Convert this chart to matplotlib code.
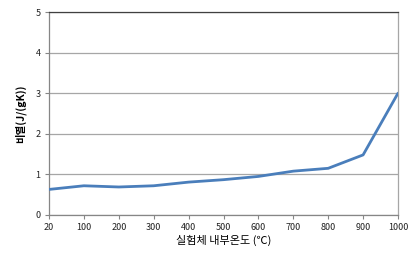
import matplotlib
matplotlib.use("Agg")
import matplotlib.pyplot as plt
import numpy as np

categories = ["20", "100", "200", "300", "400", "500", "600", "700", "800", "900", "1000"]
values = [0.63, 0.72, 0.69, 0.72, 0.81, 0.87, 0.95, 1.08, 1.15, 1.48, 3.0]
yticks = [0, 1, 2, 3, 4, 5]

plt.rcParams['font.family'] = ['Noto Sans CJK KR', 'DejaVu Sans']

fig = plt.figure(figsize=(4.18, 2.56), dpi=100)
ax = fig.add_axes([49/418, 41/256, 349/418, 203/256])

x = np.arange(len(categories))
ax.plot(x, values, color="#4a7ebb", lw=2.0, solid_capstyle="round", zorder=3)

ax.set_xlim(0, len(categories) - 1)
ax.set_ylim(0, 5)
ax.set_xticks(x)
ax.set_xticklabels(categories, fontsize=6.5, color="#222222")
ax.set_yticks(yticks)
ax.set_yticklabels([str(t) for t in yticks], fontsize=6.5, color="#222222")
ax.grid(axis="y", color="#a6a6a6", lw=0.9)
ax.set_axisbelow(True)
for s in ["left", "bottom"]:
    ax.spines[s].set_color("#868686")
    ax.spines[s].set_linewidth(0.9)
ax.spines["right"].set_color("#a6a6a6")
ax.spines["right"].set_linewidth(0.9)
ax.spines["top"].set_color("#404040")
ax.spines["top"].set_linewidth(0.9)
ax.tick_params(axis="both", length=3, width=0.8, color="#868686", pad=3)

ax.set_xlabel("실험체 내부온도 (℃)", fontsize=8, labelpad=2)
ax.set_ylabel("비열(J/(gK))", fontsize=7.5, fontweight="bold", labelpad=7)

fig.savefig("out.png", dpi=100)
